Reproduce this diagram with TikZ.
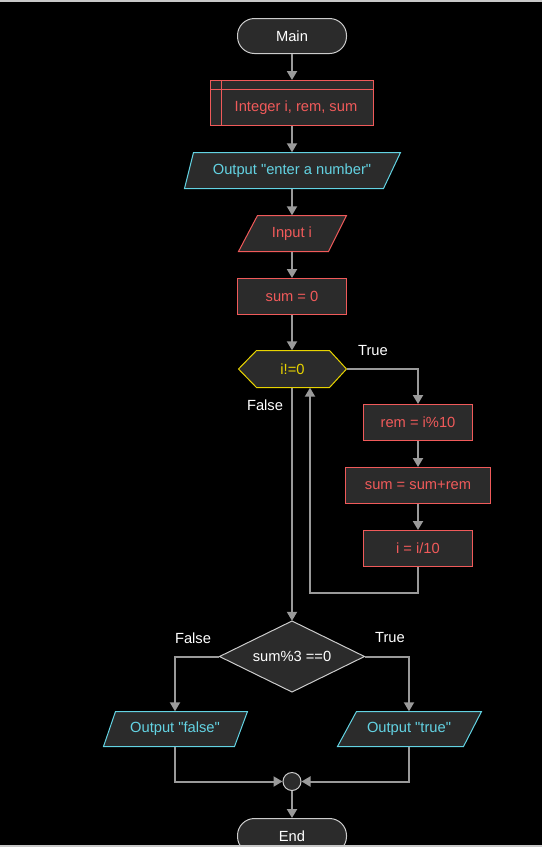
\documentclass[tikz,border=0pt]{standalone}
\usepackage{fontspec}
\setmainfont{Liberation Sans}[Ligatures=TeXOff]
\usetikzlibrary{arrows.meta}
\definecolor{bg}{HTML}{000000}
\definecolor{boxfill}{HTML}{2B2B2B}
\definecolor{redc}{HTML}{F05A5A}
\definecolor{cyanc}{HTML}{63D3E3}
\definecolor{yelc}{HTML}{E8D400}
\definecolor{greyc}{HTML}{CCCCCC}
\definecolor{linec}{HTML}{9A9A9A}
\definecolor{edgec}{HTML}{C8C8C8}
\tikzset{
  txt/.style={font=\fontsize{14.7pt}{17pt}\selectfont, inner sep=0pt, rectangle},
  shapebox/.style={fill=boxfill, line width=1pt},
  procbox/.style={txt, draw=redc, fill=boxfill, text=redc, line width=1pt, minimum height=36pt},
  termbox/.style={txt, draw=greyc, fill=boxfill, text=white, line width=1pt, minimum height=35pt, minimum width=109pt, rounded corners=17pt},
  conn/.style={draw=linec, line width=2pt, -{Triangle[length=9pt,width=10pt]}},
  lbl/.style={font=\fontsize{14.7pt}{17pt}\selectfont, text=white, inner sep=0pt},
}
\begin{document}
\begin{tikzpicture}[x=1pt,y=-1pt]
\fill[bg] (0,0) rectangle (542,847);
\useasboundingbox (0,0) rectangle (542,847);

% Main
\node[termbox] (main) at (292,36) {Main};

% Declaration
\node[procbox, minimum width=163pt, minimum height=45pt] (decl) at (292,103) {};
\draw[redc, line width=1pt] (210.5,89.5) -- (373.5,89.5) (221.5,80.5) -- (221.5,125.5);
\node[txt, text=redc] (decltxt) at (296,108) {Integer i, rem, sum};

% Output enter a number
\path[shapebox, draw=cyanc] (193.5,152.5) -- (400.5,152.5) -- (383.5,188.5) -- (184.5,188.5) -- cycle;
\node[txt, text=cyanc, minimum height=36pt, minimum width=180pt] (out1) at (292,170.5) {Output "enter a number"};

% Input i
\path[shapebox, draw=redc] (257.5,215.5) -- (346.5,215.5) -- (328.5,251.5) -- (238.5,251.5) -- cycle;
\node[txt, text=redc, minimum height=36pt, minimum width=70pt] (inp) at (292,233.5) {Input i};

% sum = 0
\node[procbox, minimum width=109pt] (sum0) at (292,296.5) {sum = 0};

% hexagon
\path[shapebox, draw=yelc] (238.5,369) -- (256.5,350.5) -- (329.5,350.5) -- (346.5,369) -- (329.5,387.5) -- (256.5,387.5) -- cycle;
\node[txt, text=yelc, minimum height=37pt, minimum width=108pt] (hex) at (292.5,369) {i!=0};

% loop body
\node[procbox, minimum width=109pt] (rem) at (418,422.5) {rem = i\%10};
\node[procbox, minimum width=145pt] (sumr) at (418,485.5) {sum = sum+rem};
\node[procbox, minimum width=109pt] (idiv) at (418,548.5) {i = i/10};

% diamond
\path[shapebox, draw=greyc] (292,621) -- (364.5,656.5) -- (292,692) -- (219.5,656.5) -- cycle;
\node[txt, text=white, minimum height=71pt, minimum width=145pt] (dia) at (292,656.5) {sum\%3 ==0};

% outputs
\path[shapebox, draw=cyanc] (115.5,711.5) -- (247.5,711.5) -- (234.5,746.5) -- (103.5,746.5) -- cycle;
\node[txt, text=cyanc, minimum height=35pt, minimum width=110pt] (outf) at (175,729) {Output "false"};
\path[shapebox, draw=cyanc] (356.5,711.5) -- (481.5,711.5) -- (463.5,746.5) -- (337.5,746.5) -- cycle;
\node[txt, text=cyanc, minimum height=35pt, minimum width=110pt] (outt) at (409,729) {Output "true"};

% join
\node[circle, draw=greyc, fill=boxfill, line width=1pt, minimum size=18pt, inner sep=0pt] (join) at (292,781.5) {};

% End
\node[termbox] (endn) at (292,836) {End};

% connectors
\draw[conn] (main.south) -- (decl.north);
\draw[conn] (decl.south) -- (out1.north);
\draw[conn] (out1.south) -- (inp.north);
\draw[conn] (inp.south) -- (sum0.north);
\draw[conn] (sum0.south) -- (hex.north -| sum0.south);
\draw[conn] (hex.east) -| (rem.north);
\draw[conn] (rem.south) -- (sumr.north);
\draw[conn] (sumr.south) -- (idiv.north);
\coordinate (loopc) at (310,593);
\draw[conn] (idiv.south) |- (loopc) -- (loopc |- hex.south);
\draw[conn] (hex.south -| dia.north) -- (dia.north);
\draw[conn] (dia.west) -| (outf.north);
\draw[conn] (dia.east) -| (outt.north);
\draw[conn] (outf.south) |- (join.west);
\draw[conn] (outt.south) |- (join.east);
\draw[conn] (join.south) -- (endn.north);

% labels
\node[lbl] (ltrue1) at (373,351) {True};
\node[lbl] (lfalse1) at (265,405) {False};
\node[lbl] (lfalse2) at (193,638) {False};
\node[lbl] (ltrue2) at (390,638) {True};

% frame lines
\fill[edgec] (0,0) rectangle (542,1.5);
\fill[edgec] (0,845) rectangle (542,846.5);
\end{tikzpicture}
\end{document}
